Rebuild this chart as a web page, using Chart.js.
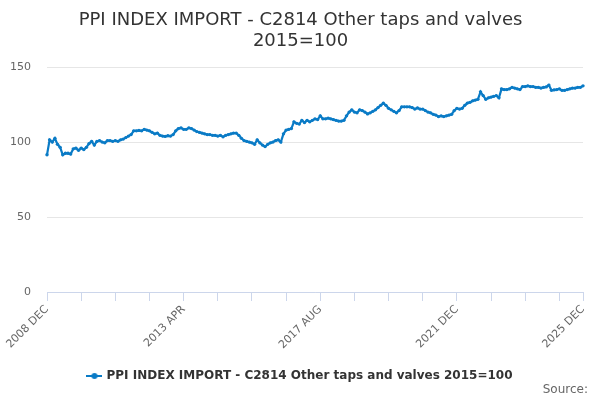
<!DOCTYPE html>
<html>
<head>
<meta charset="utf-8">
<script src="https://cdn.jsdelivr.net/npm/chart.js@4/dist/chart.umd.min.js"></script>
<style>
	body { margin: 0; background: #fff; }
	#wrap { position: relative; width: 600px; height: 400px; }
	#source { position: absolute; right: 12px; bottom: 4px; font: 12px "DejaVu Sans", sans-serif; color: #666; }
</style>
</head>
<body>
<div id="wrap">
	<canvas id="ppiChart" width="600" height="400"></canvas>
	<div id="source">Source:</div>
</div>
<script>
var titulo = ['PPI INDEX IMPORT - C2814 Other taps and valves', '2015=100'];
var serie = 'PPI INDEX IMPORT - C2814 Other taps and valves 2015=100';
var meses = ['JAN', 'FEB', 'MAR', 'APR', 'MAY', 'JUN', 'JUL', 'AUG', 'SEP', 'OCT', 'NOV', 'DEC'];
var etiquetasX = ['2008 DEC', '2013 APR', '2017 AUG', '2021 DEC', '2025 DEC'];
var ticksY = [0, 50, 100, 150];
// monthly index, 2008 DEC .. 2025 DEC
var valores = [
	91.5, 101.5, 100, 102.5, 98.5, 96.5, 91.5, 92.5, 92.5, 92, 95.5, 96, 94.5, 96, 95, 96.5, 99, 100.5, 98, 100.5,
	101, 100, 99.5, 101, 101, 100.5, 101, 100.5, 101.5, 102, 103, 104, 105, 107.5, 107.5, 107.8, 107.5, 108.5, 108, 107.5,
	106.5, 105.5, 106, 104.5, 104, 103.8, 104.2, 104, 105, 107.5, 109, 109.5, 108.5, 108.5, 109.5, 109, 108, 107, 106.5, 106,
	105.5, 105, 105, 104.5, 104.5, 104, 104.5, 103.5, 104.5, 105, 105.5, 106, 106, 104.5, 102.5, 101, 100.5, 100, 99.5, 98.5,
	101.5, 99.5, 98, 97, 98.5, 99.5, 100, 101, 101.5, 100, 105.5, 108, 108.5, 109, 113.5, 112.5, 112, 114.5, 113, 114.5,
	113.5, 114.5, 115.5, 115, 117.5, 115.5, 115.5, 116, 115.5, 115, 114.5, 114, 114, 114.5, 117.5, 120, 121.5, 120, 119.5, 121.5,
	121, 120, 118.8, 119.5, 120.5, 121.5, 123, 124.5, 126, 124.5, 122.5, 121.5, 120.5, 119.5, 121, 123.5, 123.5, 123.5, 123.5, 123,
	122, 122.8, 122, 122, 121, 120, 119.5, 118.5, 118, 117, 117.5, 117, 117.5, 118, 118.5, 121, 122.5, 122, 122.5, 124.5,
	126, 126.5, 127.5, 128, 128.5, 133.5, 131, 128.5, 129.5, 130, 130.5, 131, 129.5, 135.5, 135, 135, 135.5, 136.5, 136, 135.5,
	135, 137, 137, 137.5, 137, 137, 136.5, 136.5, 136, 136.5, 136.8, 138, 134.5, 134.8, 135, 135.5, 134.5, 134.5, 135, 135.5,
	136, 136, 136.5, 136.5, 137.5
];

var etiquetas = [];
for (let i = 0; i < valores.length; i++) {
	let m = 11 + i;
	etiquetas.push((2008 + Math.floor(m / 12)) + ' ' + meses[m % 12]);
}

var azul = '#0a7bc6';
var fuente = '"DejaVu Sans", sans-serif';

// legend symbol: short line with a dot
var simbolo = document.createElement('canvas');
simbolo.width = 16; simbolo.height = 8;
var sc = simbolo.getContext('2d');
sc.strokeStyle = azul; sc.lineWidth = 2;
sc.beginPath(); sc.moveTo(0, 4); sc.lineTo(16, 4); sc.stroke();
sc.fillStyle = azul;
sc.beginPath(); sc.arc(8, 4, 3, 0, Math.PI * 2); sc.fill();

// title and legend centred on the whole canvas, not on the padded box
var centrar = {
	id: 'centrar',
	afterLayout: function (chart) {
		[chart.titleBlock, chart.legend].forEach(function (b) {
			if (b) { b.left += 9; b.right += 9; }
		});
	}
};

new Chart(document.getElementById('ppiChart'), {
	type: 'line',
	data: {
		labels: etiquetas,
		datasets: [{
			label: serie,
			data: valores,
			borderColor: azul,
			backgroundColor: azul,
			borderWidth: 2.2,
			pointRadius: 1.7,
			pointBorderWidth: 0,
			pointBackgroundColor: azul,
			pointStyle: 'circle',
			tension: 0,
		}],
	},
	plugins: [centrar],
	options: {
		responsive: false,
		animation: false,
		layout: { padding: { left: 0, right: 17, top: 0, bottom: 8 } },
		plugins: {
			title: {
				display: true,
				text: titulo,
				color: '#333',
				font: { family: fuente, size: 18, weight: 'normal', lineHeight: 1.17 },
				padding: { top: 10, bottom: 15 },
			},
			legend: {
				position: 'bottom',
				labels: {
					usePointStyle: true,
					pointStyle: simbolo,
					color: '#333',
					font: { family: fuente, size: 12, weight: 'bold' },
					padding: 10,
				},
			},
			tooltip: { enabled: false },
		},
		scales: {
			x: {
				afterFit: function (s) { s.height = 68; },
				grid: { drawOnChartArea: false, drawTicks: true, tickLength: 9, color: '#ccd6eb' },
				border: { color: '#ccd6eb' },
				ticks: {
					autoSkip: false,
					minRotation: 45,
					maxRotation: 45,
					color: '#666',
					font: { family: fuente, size: 11 },
					padding: 2,
					callback: function (v, i) {
						let e = etiquetas[i];
						if (etiquetasX.indexOf(e) >= 0) return e;
						if (i % 13 === 0) return '';
						return null;
					},
				},
			},
			y: {
				min: ticksY[0],
				max: ticksY[ticksY.length - 1],
				afterFit: function (s) { s.width = 47; },
				afterBuildTicks: function (s) { s.ticks = ticksY.map(function (v) { return { value: v }; }); },
				grid: { color: '#e6e6e6', drawTicks: false },
				border: { display: false },
				ticks: {
					color: '#666',
					font: { family: fuente, size: 11 },
					padding: 16,
				},
			},
		},
	},
});
</script>
</body>
</html>
